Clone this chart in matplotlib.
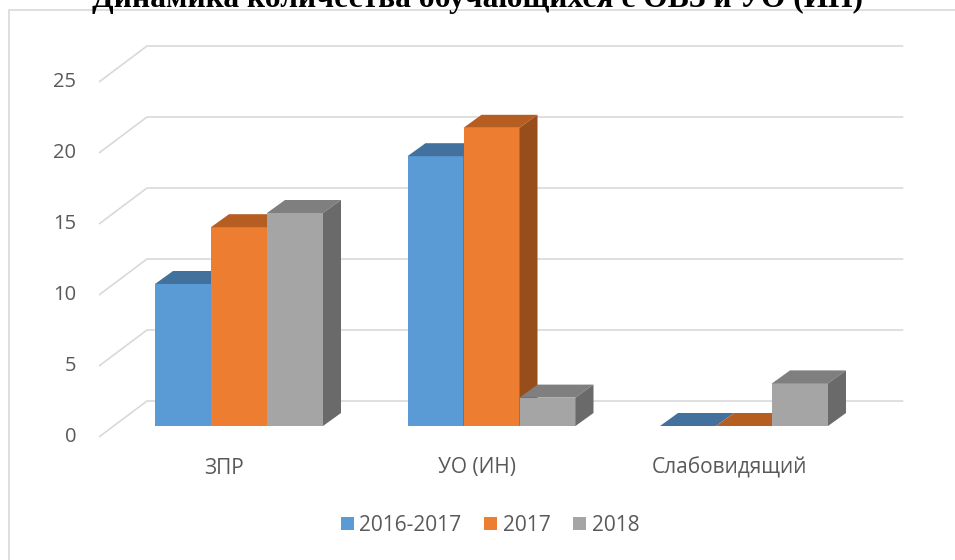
import matplotlib
matplotlib.use("Agg")
import matplotlib.pyplot as plt
from matplotlib.patches import Polygon, Rectangle, Patch
import numpy as np

# ---------------- data ----------------
title = "Динамика количества обучающихся с ОВЗ и УО (ИН)"
categories = ["ЗПР", "УО (ИН)", "Слабовидящий"]
series_names = ["2016-2017", "2017", "2018"]
values_2016_2017 = [10, 19, 0]
values_2017 = [14, 21, 0]
values_2018 = [15, 2, 3]
yticks = [0, 5, 10, 15, 20, 25]

series_values = [values_2016_2017, values_2017, values_2018]
front_colors = ["#5B9BD5", "#ED7D31", "#A5A5A5"]
top_colors = ["#41719C", "#B65E22", "#7F7F7F"]
side_colors = ["#37628A", "#984E1B", "#6A6A6A"]

FONT = ["Open Sans", "DejaVu Sans"]
TXT = "#595959"
GRID = "#D9D9D9"

# ---------------- geometry (pixels) ----------------
W, H = 955, 560
X0, SX = 239.0, 252.5      # px of first category centre, px per category
Y0, SY = 134.0, 14.2       # px (from bottom) of bar baseline, px per unit
BAR_W_PX = 56.0
DEPTH = (18.0, 13.0)       # bar depth projection (px right, px up)
BACK = (33.3, 25.0)        # back wall offset from bar plane
FRONT = (-14.7, -11.0)     # front floor edge offset from bar plane
WALL_L_PX, WALL_R_PX = 113.7, 870.0

fig = plt.figure(figsize=(W / 100, H / 100), dpi=100)
ax = fig.add_axes([0, 0, 1, 1])
ax.set_xlim((0 - X0) / SX, (W - X0) / SX)
ax.set_ylim(-Y0 / SY, (H - Y0) / SY)
ax.axis("off")


def ux(px):
    return px / SX


def uy(px):
    return px / SY


xL = (WALL_L_PX - X0) / SX
xR = (WALL_R_PX - X0) / SX

# gridlines on back wall + left wall diagonals
for v in yticks:
    xs = [xL + ux(FRONT[0]), xL + ux(BACK[0]), xR + ux(BACK[0])]
    ys = [v + uy(FRONT[1]), v + uy(BACK[1]), v + uy(BACK[1])]
    ax.plot(xs, ys, color=GRID, lw=1.2, solid_capstyle="butt", zorder=1)
    ax.text((76 - X0) / SX, v + uy(FRONT[1]), str(v), ha="right", va="center",
            fontsize=14.5, color=TXT, family=FONT)

# bars
bw = ux(BAR_W_PX)
dx, dy = ux(DEPTH[0]), uy(DEPTH[1])
idx = np.arange(len(categories))
z = 3
for ci in range(len(categories)):
    for si, vals in enumerate(series_values):
        x = idx[ci] + (si - 1) * bw
        v = vals[ci]
        left, right = x - bw / 2, x + bw / 2
        ax.bar(x, v, width=bw, color=front_colors[si], linewidth=0, zorder=z)
        z += 1
        top = Polygon([(left, v), (right, v), (right + dx, v + dy), (left + dx, v + dy)],
                      closed=True, facecolor=top_colors[si], edgecolor="none", zorder=z)
        ax.add_patch(top)
        z += 1
        if v > 0:
            side = Polygon([(right, 0), (right + dx, dy), (right + dx, v + dy), (right, v)],
                           closed=True, facecolor=side_colors[si], edgecolor="none", zorder=z)
            ax.add_patch(side)
            z += 1

# category labels
for ci, name in enumerate(categories):
    ax.text(idx[ci] + ux(FRONT[0]), uy(FRONT[1]) - uy(31), name, ha="center", va="center",
            fontsize=15, color=TXT, family=FONT)

# legend
handles = [Patch(facecolor=c, edgecolor="none") for c in front_colors]
leg = fig.legend(handles, series_names, loc="center", bbox_to_anchor=(490 / W, 34.5 / H),
                 ncol=3, frameon=False, handlelength=0.63, handleheight=0.63,
                 handletextpad=0.25, columnspacing=1.1,
                 prop={"family": FONT, "size": 15})
for t in leg.get_texts():
    t.set_color(TXT)

# chart border
fig.patches.append(Rectangle((9 / W, -0.1), 1.2, (H - 10) / H + 0.1, transform=fig.transFigure,
                             fill=False, edgecolor=GRID, lw=1.2, zorder=0))

# title (partly above the top edge, as in the reference), fit width to ~770 px
tt = fig.text(477 / W, (H - 7) / H, title, ha="center", va="baseline",
              family=["Liberation Serif", "DejaVu Serif"], weight="bold", fontsize=24,
              color="black")
fig.canvas.draw()
w = tt.get_window_extent().width
tt.set_fontsize(24 * 770 / w)

fig.savefig("out.png", dpi=100)
